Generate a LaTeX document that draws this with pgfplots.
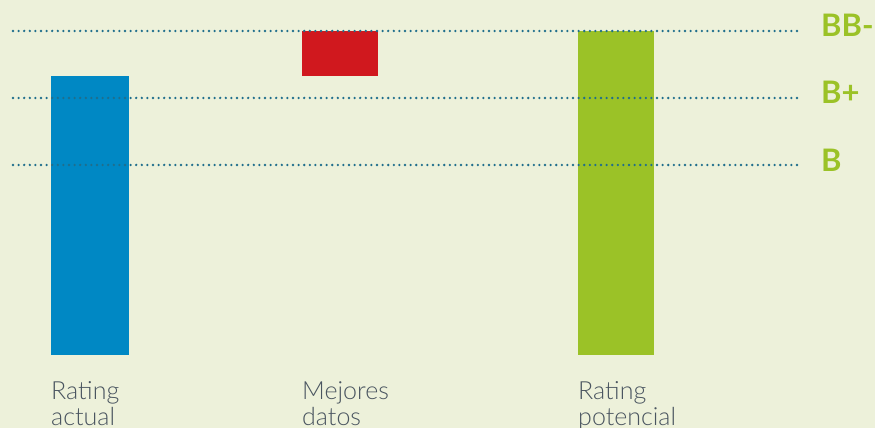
\documentclass[border=0pt]{standalone}
\usepackage{pgfplots}
\pgfplotsset{compat=1.18}
\usepackage{fontspec}
\setmainfont{Lato}[UprightFont=* Light, BoldFont=* Bold]
\definecolor{bg}{HTML}{EDF1DA}
\definecolor{cblue}{HTML}{0088C4}
\definecolor{cred}{HTML}{D0181E}
\definecolor{cgreen}{HTML}{9BC227}
\definecolor{cdot}{HTML}{1F6E8C}
\definecolor{ctext}{HTML}{4A5560}
\begin{document}
\begin{tikzpicture}
\begin{axis}[name=ax, x=1pt, y=1pt, xmin=0, xmax=875, ymin=-73, ymax=355,
  hide axis, clip=false, scale only axis]
% background
\fill[bg] (axis cs:0,-73) rectangle (axis cs:875,355);
% bars
\addplot[ybar, bar shift=0pt, bar width=78, fill=cblue, draw=none] coordinates {(90,279)};
\addplot[ybar, bar shift=0pt, bar width=76, fill=cgreen, draw=none] coordinates {(616,324)};
\addplot[fill=cred, draw=none] coordinates {(302,279) (378,279) (378,324) (302,324)} -- cycle;
% reference lines
\addplot[cdot, line width=2.6pt, line cap=round, dash pattern=on 0pt off 5.6pt] coordinates {(13,324) (797,324)};
\addplot[cdot, line width=2.6pt, line cap=round, dash pattern=on 0pt off 5.6pt] coordinates {(13,257) (797,257)};
\addplot[cdot, line width=2.6pt, line cap=round, dash pattern=on 0pt off 5.6pt] coordinates {(13,190) (797,190)};
% rating labels
\node[anchor=base west, inner sep=0pt, text=cgreen, font=\fontsize{31}{31}\selectfont\bfseries] at (axis cs:821,318) {BB-};
\node[anchor=base west, inner sep=0pt, text=cgreen, font=\fontsize{31}{31}\selectfont\bfseries] at (axis cs:821,251) {B+};
\node[anchor=base west, inner sep=0pt, text=cgreen, font=\fontsize{31}{31}\selectfont\bfseries] at (axis cs:821,183) {B};
% category labels
\tikzset{cat/.style={anchor=base west, inner sep=0pt, text=ctext, font=\fontsize{25}{27}\selectfont}}
\node[cat] at (axis cs:51,-45) {Rating};
\node[cat] at (axis cs:51,-71) {actual};
\node[cat] at (axis cs:302,-45) {Mejores};
\node[cat] at (axis cs:302,-71) {datos};
\node[cat] at (axis cs:578,-45) {Rating};
\node[cat] at (axis cs:578,-71) {potencial};
\end{axis}
\pgfresetboundingbox
\useasboundingbox (ax.south west) rectangle (ax.north east);
\end{tikzpicture}
\end{document}
